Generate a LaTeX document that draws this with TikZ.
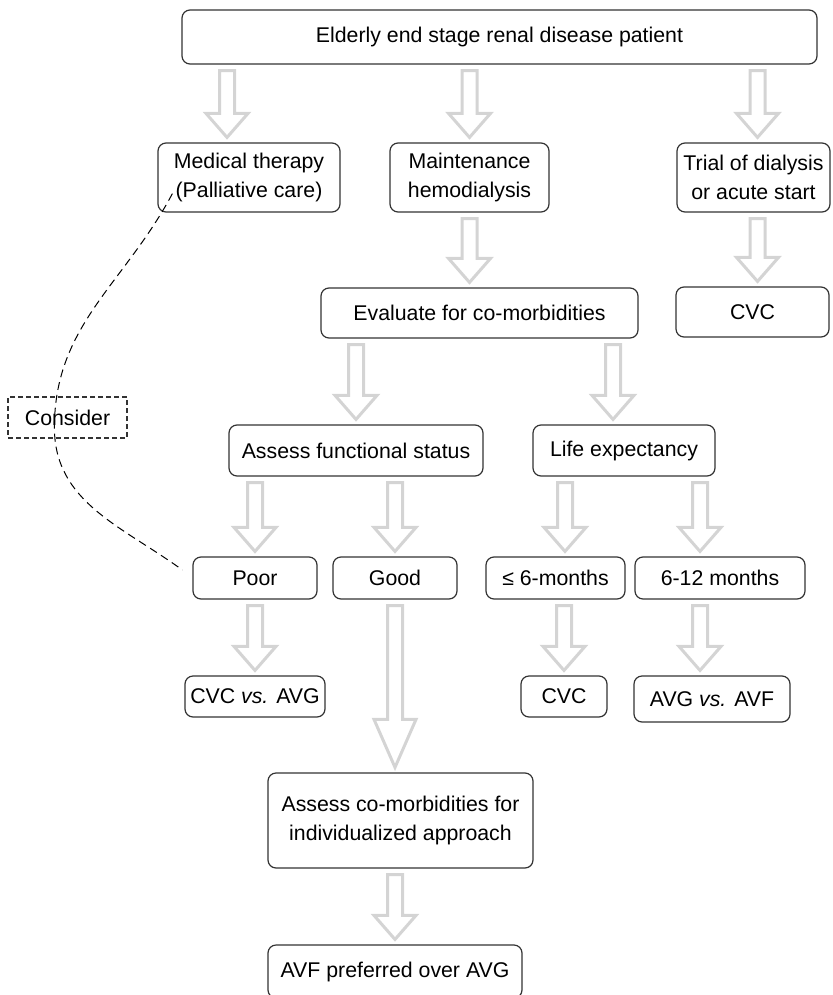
\documentclass[tikz,border=0pt]{standalone}
\usepackage{fontspec}
\setmainfont{Liberation Sans}
\usetikzlibrary{calc}
\begin{document}
\begin{tikzpicture}[x=0.5pt,y=-0.5pt,
  box/.style={draw=black!80, line width=0.6pt, rounded corners=4pt, inner sep=0pt,
    align=center, font=\fontsize{10.65}{14.5}\selectfont},
  fat/.style={draw=black!17, line width=1.5pt, fill=white, line join=miter,
    to path={let \p1=(\tikztostart), \p2=(\tikztotarget) in
      (\x1-3.75pt,\y1-3pt) -- (\x1-3.75pt,\y2+#1+2.5pt) -- (\x1-10.5pt,\y2+#1+2.5pt)
      -- (\x1,\y2+2.5pt) -- (\x1+10.5pt,\y2+#1+2.5pt) -- (\x1+3.75pt,\y2+#1+2.5pt)
      -- (\x1+3.75pt,\y1-3pt) -- cycle}},
  fat/.default=12pt]
\useasboundingbox (0,0) rectangle (832,995);

\node[box, minimum width=317.5pt, minimum height=27pt] (top) at (499.5,37) {Elderly end stage renal disease patient};
\node[box, minimum width=91pt, minimum height=34.5pt] (med) at (249,177.5) {Medical therapy\\(Palliative care)};
\node[box, minimum width=79.5pt, minimum height=34.5pt] (maint) at (469.5,177.5) {Maintenance\\hemodialysis};
\node[box, minimum width=76.5pt, minimum height=34.5pt] (trial) at (753.5,177.5) {Trial of dialysis\\or acute start};
\node[box, minimum width=158.5pt, minimum height=25pt] (eval) at (479.5,313) {Evaluate for co-morbidities};
\node[box, minimum width=76.5pt, minimum height=25pt] (cvcA) at (752.5,312) {CVC};
\node[box, rounded corners=0pt, dash pattern=on 2.5pt off 1.5pt, minimum width=59.5pt, minimum height=20.5pt] (consider) at (67.5,417.5) {Consider};
\node[box, minimum width=127pt, minimum height=25.5pt] (func) at (356,450.5) {Assess functional status};
\node[box, minimum width=91pt, minimum height=25.5pt] (life) at (624,450.5) {Life expectancy};
\node[box, minimum width=62pt, minimum height=21pt] (poor) at (255,578) {Poor};
\node[box, minimum width=62pt, minimum height=21pt] (good) at (395,578) {Good};
\node[box, minimum width=69.5pt, minimum height=21pt] (short) at (555.5,578) {≤ 6-months};
\node[box, minimum width=85pt, minimum height=21pt] (mid) at (720,578) {6-12 months};
\node[box, minimum width=70pt, minimum height=20.5pt] (cvcavg) at (255,696.5) {CVC \textit{vs.} AVG};
\node[box, minimum width=43pt, minimum height=20.5pt] (cvcB) at (564,696.5) {CVC};
\node[box, minimum width=78pt, minimum height=23pt] (avgavf) at (712,699) {AVG \textit{vs.} AVF};
\node[box, minimum width=132.5pt, minimum height=47.5pt] (assess) at (400.5,820.5) {Assess co-morbidities for\\individualized approach};
\node[box, minimum width=127pt, minimum height=26.5pt] (avf) at (395,971.5) {AVF preferred over AVG};

% hollow arrows
\draw[fat] ([xshift=-11pt]med.north |- top.south) to (med.north);
\draw[fat] (maint.north |- top.south) to (maint.north);
\draw[fat] ([xshift=2pt]trial.north |- top.south) to (trial.north);
\draw[fat] (maint.south) to (eval.north);
\draw[fat] ([xshift=2pt]trial.south) to (cvcA.north);
\draw[fat] (func.north |- eval.south) to (func.north);
\draw[fat] ([xshift=-5.5pt]life.north |- eval.south) to (life.north);
\draw[fat] (poor.north |- func.south) to (poor.north);
\draw[fat] (good.north |- func.south) to (good.north);
\draw[fat] ([xshift=4.75pt]short.north |- life.south) to (short.north);
\draw[fat] ([xshift=-10pt]mid.north |- life.south) to (mid.north);
\draw[fat] (poor.south) to (cvcavg.north);
\draw[fat=24pt] (good.south) to (assess.north);
\draw[fat] (cvcB.north |- short.south) to (cvcB.north);
\draw[fat] ([xshift=-10pt]mid.south) to (avgavf.north);
\draw[fat] (avf.north |- assess.south) to (avf.north);

% dashed link
\coordinate (c1) at ([shift={(7.5pt,9.5pt)}]med.south west);
\coordinate (c2) at ([shift={(23.5pt,-5pt)}]consider.west);
\coordinate (c3) at ([shift={(-5pt,4pt)}]poor.west);
\draw[line width=0.5pt, dash pattern=on 4pt off 2.5pt] (c1) to[out=-118,in=90] (c2) to[out=-90,in=144] (c3);
\end{tikzpicture}
\end{document}
